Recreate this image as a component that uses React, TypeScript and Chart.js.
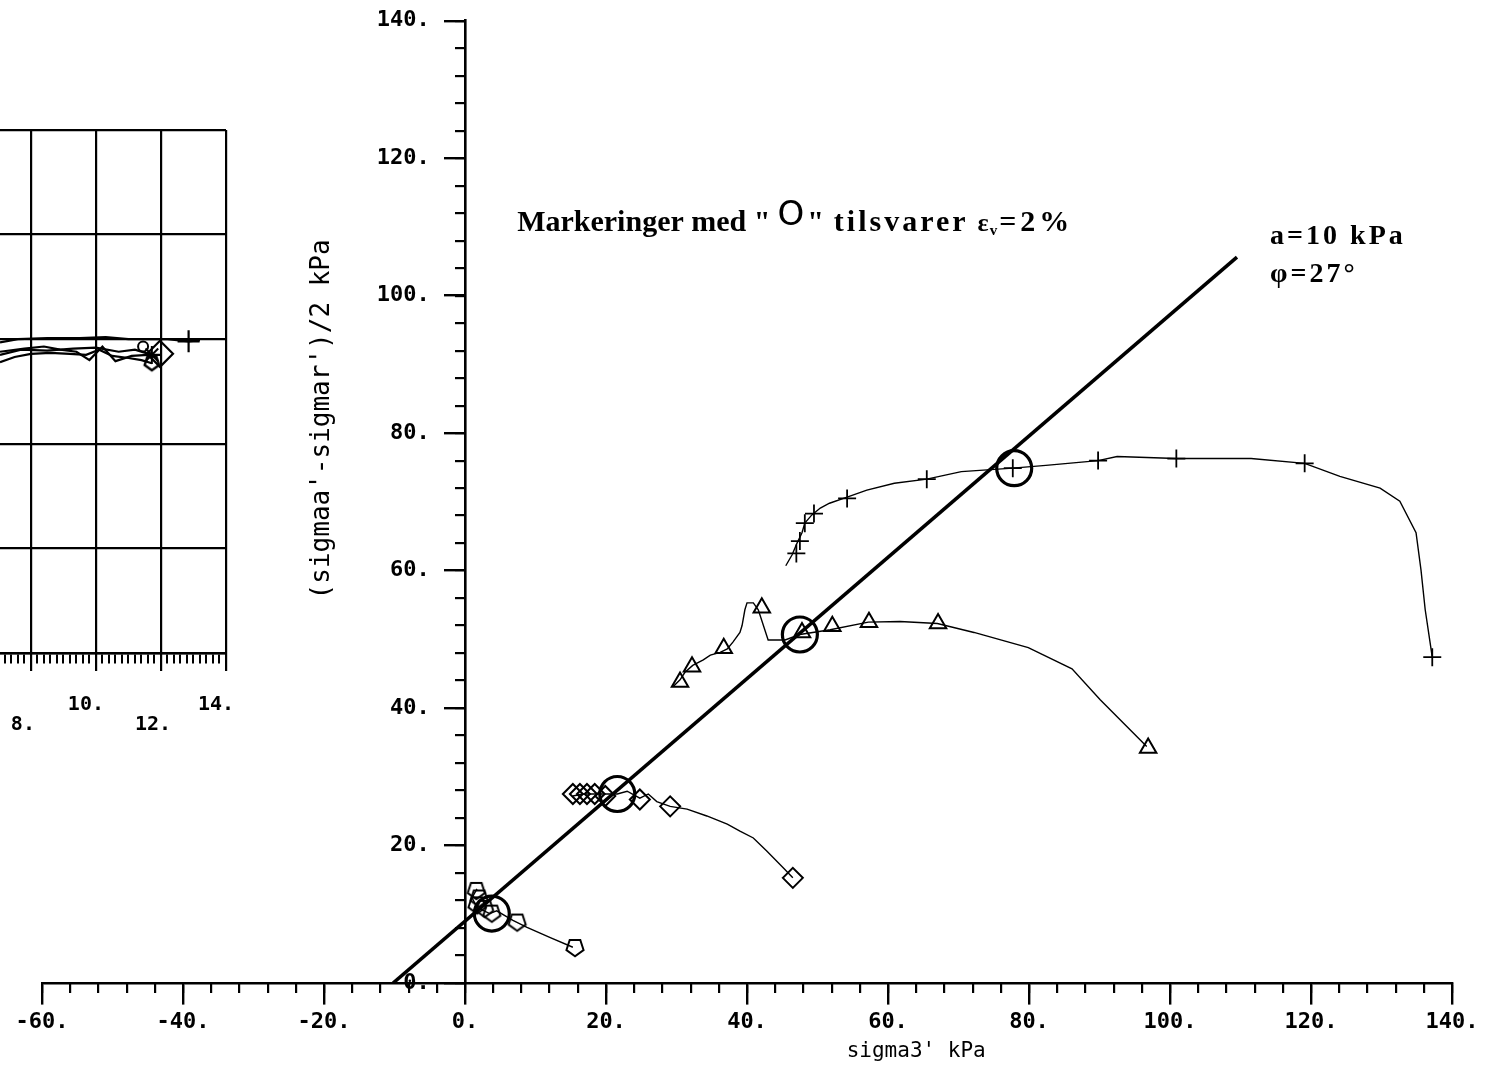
import React, { useEffect, useRef } from 'react';
import { Chart, registerables } from 'chart.js';

Chart.register(...registerables);

const FONT_MONO = '"DejaVu Sans Mono", monospace';
const FONT_SERIF = '"Liberation Serif", "Times New Roman", serif';

// ---------------- main chart: ticks & texts ----------------
const xMajorTicks = [-60, -40, -20, 0, 20, 40, 60, 80, 100, 120, 140];
const yMajorTicks = [0, 20, 40, 60, 80, 100, 120, 140];
const xTitle = "sigma3' kPa";
const yTitle = "(sigmaa'-sigmar')/2 kPa";
const noteParts = ['Markeringer med "', 'O', '"', 'tilsvarer', 'ε', 'v', '=2%'];
const paramLines = ['a=10 kPa', 'φ=27°'];

// ---------------- main chart: data ----------------
const failureLine = [[-10.2, 0], [109.5, 105.6]];

const plusCurve = [
  [45.5, 60.7], [46.4, 62.3], [47.1, 64.0], [47.8, 65.5], [48.2, 66.9], [49.2, 68.1], [50.4, 69.1],
  [51.7, 69.8], [54.2, 70.7], [57.0, 71.7], [60.9, 72.7], [65.5, 73.3], [70.4, 74.4], [77.7, 74.9],
  [82.4, 75.3], [89.8, 76.0], [92.5, 76.6], [100.9, 76.3], [111.5, 76.3], [119.1, 75.6], [124.1, 73.7],
  [129.8, 72.0], [132.6, 70.1], [134.9, 65.5], [135.6, 60.1], [136.2, 54.3], [137.2, 47.4],
];
const plusMarks = [
  [47.0, 62.5], [47.5, 64.3], [48.2, 66.9], [49.5, 68.3], [54.2, 70.5], [65.5, 73.3], [77.7, 74.9],
  [89.8, 76.0], [100.9, 76.3], [119.1, 75.6], [137.2, 47.4],
];

const triCurve = [
  [29.5, 43.1], [30.5, 44.1], [31.2, 45.2], [32.3, 46.2], [33.8, 47.0], [34.8, 47.7], [36.2, 48.1],
  [37.2, 48.6], [38.0, 49.6], [39.0, 51.0], [39.3, 52.0], [39.7, 54.3], [40.0, 55.3], [40.9, 55.3],
  [41.6, 54.3], [43.0, 49.9], [45.4, 49.9], [47.5, 50.7], [51.8, 51.4], [57.2, 52.5], [61.7, 52.6],
  [67.0, 52.3], [72.2, 51.0], [79.9, 48.8], [86.1, 45.7], [90.1, 41.2], [96.7, 34.4],
];
const triMarks = [
  [30.5, 43.8], [32.2, 46.0], [36.7, 48.7], [42.1, 54.6], [47.8, 51.0], [52.1, 51.9], [57.3, 52.5],
  [67.1, 52.3], [96.9, 34.2],
];

const diaCurve = [
  [15.3, 27.2], [16.7, 27.5], [18.2, 27.5], [20.1, 27.5], [21.6, 27.5], [23.0, 27.9], [24.8, 26.9],
  [26.0, 27.5], [27.2, 26.4], [29.1, 25.7], [31.5, 25.3], [34.3, 24.3], [37.2, 23.1], [39.0, 22.1],
  [40.9, 21.1], [42.8, 19.2], [45.1, 16.8], [46.5, 15.3],
];
const diaMarks = [
  [15.3, 27.5], [16.3, 27.5], [17.3, 27.5], [18.4, 27.5], [19.9, 27.2], [24.8, 26.7], [29.1, 25.7],
  [46.5, 15.3],
];

const pentCurve = [
  [1.7, 13.7], [1.0, 12.4], [1.7, 11.0], [3.5, 10.1], [4.5, 10.5], [6.8, 9.1], [8.8, 8.1],
  [12.1, 6.6], [15.3, 5.2],
];
const pentMarks = [[1.6, 13.4], [2.0, 12.3], [1.7, 11.3], [2.8, 10.8], [3.8, 10.1], [7.4, 8.8], [15.6, 5.1]];

const strainMarks = [[77.9, 74.9], [47.5, 50.7], [21.6, 27.5], [3.8, 10.1]];

// ---------------- left (partly visible) chart ----------------
const leftXMajorA = [10, 14];
const leftXMajorB = [8, 12];
const leftPlusLine = [[7.05, 2.97], [7.6, 3.0], [8.5, 3.01], [9.5, 3.01], [10.3, 3.02], [11.0, 3.0], [11.6, 3.0], [12.2, 3.0], [12.85, 2.98], [13.2, 2.99]];
const leftPlusMark = [[12.85, 2.98]];
const leftDiaLine = [[7.05, 2.88], [7.8, 2.91], [8.4, 2.93], [8.9, 2.9], [9.4, 2.88], [9.8, 2.8], [10.2, 2.93], [10.6, 2.79], [11.1, 2.84], [11.6, 2.85], [11.97, 2.85]];
const leftDiaMark = [[11.97, 2.86]];
const leftPentLine = [[7.05, 2.78], [7.5, 2.83], [8.0, 2.86], [8.6, 2.87], [9.2, 2.86], [9.7, 2.85], [10.1, 2.9], [10.5, 2.84], [11.0, 2.82], [11.4, 2.8], [11.72, 2.77]];
const leftPentMark = [[11.72, 2.77]];
const leftStarLine = [[7.05, 2.85], [7.7, 2.9], [8.5, 2.89], [9.3, 2.91], [10.0, 2.92], [10.7, 2.88], [11.2, 2.9], [11.72, 2.85]];
const leftStarMark = [[11.72, 2.85]];
const leftCircleMark = [[11.45, 2.93]];

const pts = (a: number[][]) => a.map(([x, y]) => ({ x, y }));

function makePentagon(size: number, lw: number) {
  const c = document.createElement('canvas');
  c.width = size;
  c.height = size;
  const g = c.getContext('2d')!;
  g.strokeStyle = '#000';
  g.lineWidth = lw;
  const r = size / 2 - lw;
  g.beginPath();
  for (let i = 0; i < 5; i++) {
    const a = Math.PI / 2 + (i * 2 * Math.PI) / 5;
    const px = size / 2 + r * Math.cos(a);
    const py = size / 2 - r * 0.08 + r * Math.sin(a);
    if (i === 0) g.moveTo(px, py);
    else g.lineTo(px, py);
  }
  g.closePath();
  g.stroke();
  return c;
}

const lineDs = (data: number[][], width = 1.4) => ({
  data: pts(data),
  showLine: true,
  borderColor: '#000',
  borderWidth: width,
  pointRadius: 0,
  xAxisID: 'x',
  yAxisID: 'y',
});
const markDs = (data: number[][], style: any, radius: number, width = 2) => ({
  data: pts(data),
  showLine: false,
  pointStyle: style,
  pointRadius: radius,
  pointBorderColor: '#000',
  pointBackgroundColor: 'rgba(0,0,0,0)',
  pointBorderWidth: width,
  xAxisID: 'x',
  yAxisID: 'y',
});

const mainTextPlugin = {
  id: 'mainTexts',
  afterDatasetsDraw(chart: any) {
    const { ctx, chartArea } = chart;
    const xs = chart.scales.x;
    const ys = chart.scales.y;
    ctx.save();
    ctx.fillStyle = '#000';
    // axis titles
    ctx.font = `21px ${FONT_MONO}`;
    ctx.textAlign = 'center';
    ctx.textBaseline = 'alphabetic';
    ctx.fillText(xTitle, xs.getPixelForValue(64), chartArea.bottom + 74);
    ctx.save();
    ctx.translate(xs.getPixelForValue(-20.2), ys.getPixelForValue(82));
    ctx.rotate(-Math.PI / 2);
    ctx.font = `26px ${FONT_MONO}`;
    ctx.textBaseline = 'middle';
    ctx.fillText(yTitle, 0, 0);
    ctx.restore();

    // note: Markeringer med "O" tilsvarer ε_v=2%
    ctx.textAlign = 'left';
    ctx.textBaseline = 'alphabetic';
    const big = `bold 30px ${FONT_SERIF}`;
    const base = ys.getPixelForValue(109.4);
    let px = xs.getPixelForValue(7.4);
    ctx.font = big;
    ctx.fillText(noteParts[0], px, base);
    px += ctx.measureText(noteParts[0]).width + 7;
    ctx.font = `34px "DejaVu Sans", sans-serif`;
    ctx.fillText(noteParts[1], px, base - 6);
    px += ctx.measureText(noteParts[1]).width + 3;
    ctx.font = big;
    ctx.fillText(noteParts[2], px, base);
    px += ctx.measureText(noteParts[2]).width + 10;
    (ctx as any).letterSpacing = '3px';
    ctx.fillText(noteParts[3], px, base);
    px += ctx.measureText(noteParts[3]).width + 9;
    (ctx as any).letterSpacing = '0px';
    ctx.font = `bold 26px ${FONT_SERIF}`;
    ctx.fillText(noteParts[4], px, base);
    px += ctx.measureText(noteParts[4]).width + 1;
    ctx.font = `bold 15px ${FONT_SERIF}`;
    ctx.fillText(noteParts[5], px, base + 4);
    px += ctx.measureText(noteParts[5]).width + 2;
    ctx.font = big;
    (ctx as any).letterSpacing = '4px';
    ctx.fillText(noteParts[6], px, base);

    // parameters
    ctx.font = `bold 28px ${FONT_SERIF}`;
    (ctx as any).letterSpacing = '3px';
    const ax = xs.getPixelForValue(114.2);
    ctx.fillText(paramLines[0], ax, ys.getPixelForValue(107.5));
    ctx.fillText(paramLines[1], ax, ys.getPixelForValue(102.0));
    ctx.restore();
  },
};

export default function App() {
  const mainRef = useRef<HTMLCanvasElement>(null);
  const leftRef = useRef<HTMLCanvasElement>(null);

  useEffect(() => {
    const pent = makePentagon(22, 2);
    const pentSmall = makePentagon(20, 2.4);
    const tickFont = { family: FONT_MONO, size: 22, weight: 'bold' as const };
    const axisColor = '#000';

    const mainChart = new Chart(mainRef.current!, {
      type: 'scatter',
      data: {
        datasets: [
          lineDs(failureLine, 3.6),
          lineDs(plusCurve),
          lineDs(triCurve),
          lineDs(diaCurve),
          lineDs(pentCurve),
          markDs(plusMarks, 'cross', 9, 1.8),
          markDs(triMarks, 'triangle', 9.5, 2),
          markDs(diaMarks, 'rectRot', 10, 2),
          markDs(pentMarks, pent, 11, 2),
          markDs(strainMarks, 'circle', 17.5, 3.2),
        ] as any,
      },
      options: {
        responsive: false,
        animation: false,
        events: [],
        layout: { padding: { left: 42, right: 42, top: 14, bottom: 91 } },
        plugins: { legend: { display: false }, tooltip: { enabled: false } },
        scales: {
          x: {
            type: 'linear',
            axis: 'x',
            min: -60,
            max: 140,
            position: { y: 0 } as any,
            afterBuildTicks: (s: any) => {
              s.ticks = xMajorTicks.map((v) => ({ value: v }));
            },
            grid: { drawOnChartArea: false, drawTicks: true, tickLength: 20, color: axisColor, lineWidth: 2.4 },
            border: { display: true, color: axisColor, width: 2.6 },
            ticks: { color: '#000', font: tickFont, padding: 6, maxRotation: 0, autoSkip: false, callback: (v: any) => `${v}.` },
          },
          xMinor: {
            type: 'linear',
            axis: 'x',
            min: -60,
            max: 140,
            position: { y: 0 } as any,
            ticks: { stepSize: 4, display: false, autoSkip: false },
            grid: { drawOnChartArea: false, drawTicks: true, tickLength: 10, color: axisColor, lineWidth: 2.2 },
            border: { display: false },
          },
          y: {
            type: 'linear',
            axis: 'y',
            min: 0,
            max: 140,
            position: { x: 0 } as any,
            afterBuildTicks: (s: any) => {
              s.ticks = yMajorTicks.map((v) => ({ value: v }));
            },
            grid: { drawOnChartArea: false, drawTicks: true, tickLength: 20, color: axisColor, lineWidth: 2.4 },
            border: { display: true, color: axisColor, width: 2.6 },
            ticks: { display: false },
          },
          yMinor: {
            type: 'linear',
            axis: 'y',
            min: 0,
            max: 140,
            position: { x: 0 } as any,
            ticks: { stepSize: 4, display: false, autoSkip: false },
            grid: { drawOnChartArea: false, drawTicks: true, tickLength: 10, color: axisColor, lineWidth: 2.2 },
            border: { display: false },
          },
          yLabels: {
            type: 'linear',
            axis: 'y',
            min: 0,
            max: 140,
            position: { x: -5.0 } as any,
            afterBuildTicks: (s: any) => {
              s.ticks = yMajorTicks.map((v) => ({ value: v }));
            },
            grid: { display: false, drawOnChartArea: false, drawTicks: false },
            border: { display: false },
            ticks: { color: '#000', font: tickFont, autoSkip: false, callback: (v: any) => `${v}.` },
          },
        },
      } as any,
      plugins: [mainTextPlugin],
    });

    const leftLine = (d: number[][]) => ({ ...lineDs(d, 2.2) });
    const leftMinorTicks: number[] = [];
    for (let i = 36; i <= 70; i++) leftMinorTicks.push(Math.round(i * 2) / 10);
    const leftFont = { family: FONT_MONO, size: 20, weight: 'bold' as const };

    const leftChart = new Chart(leftRef.current!, {
      type: 'scatter',
      data: {
        datasets: [
          leftLine(leftPlusLine),
          leftLine(leftDiaLine),
          leftLine(leftPentLine),
          leftLine(leftStarLine),
          markDs(leftPlusMark, 'cross', 11, 2.2),
          markDs(leftDiaMark, 'rectRot', 13, 2.2),
          markDs(leftStarMark, 'star', 9, 2),
          markDs(leftPentMark, pentSmall, 10, 2),
          markDs(leftCircleMark, 'circle', 5, 2),
        ] as any,
      },
      options: {
        responsive: false,
        animation: false,
        events: [],
        layout: { padding: { left: 60, right: 60, top: 130, bottom: 87 } },
        plugins: { legend: { display: false }, tooltip: { enabled: false } },
        scales: {
          x: {
            type: 'linear',
            axis: 'x',
            min: 7.05,
            max: 14,
            position: { y: 0 } as any,
            afterBuildTicks: (s: any) => {
              s.ticks = leftMinorTicks.map((v) => ({ value: v }));
            },
            ticks: { display: false, autoSkip: false },
            grid: { drawOnChartArea: false, drawTicks: true, tickLength: 9, color: '#000', lineWidth: 2 },
            border: { display: true, color: '#000', width: 2.4 },
          },
          xA: {
            type: 'linear',
            axis: 'x',
            min: 7.05,
            max: 14,
            position: { y: 0 } as any,
            afterBuildTicks: (s: any) => {
              s.ticks = leftXMajorA.map((v) => ({ value: v }));
            },
            ticks: { color: '#000', font: leftFont, padding: 22, labelOffset: -10, autoSkip: false, maxRotation: 0, callback: (v: any) => `${v}.` },
            grid: { drawOnChartArea: true, drawTicks: true, tickLength: 18, color: '#000', lineWidth: 2.2 },
            border: { display: false },
          },
          xB: {
            type: 'linear',
            axis: 'x',
            min: 7.05,
            max: 14,
            position: { y: 0 } as any,
            afterBuildTicks: (s: any) => {
              s.ticks = leftXMajorB.map((v) => ({ value: v }));
            },
            ticks: { color: '#000', font: leftFont, padding: 42, labelOffset: -8, autoSkip: false, maxRotation: 0, callback: (v: any) => `${v}.` },
            grid: { drawOnChartArea: true, drawTicks: true, tickLength: 18, color: '#000', lineWidth: 2.2 },
            border: { display: false },
          },
          y: {
            type: 'linear',
            axis: 'y',
            min: 0,
            max: 5,
            position: 'left',
            ticks: { display: false, stepSize: 1 },
            grid: { drawOnChartArea: true, drawTicks: false, color: '#000', lineWidth: 2.2 },
            border: { display: false },
          },
        },
      } as any,
    });

    return () => {
      mainChart.destroy();
      leftChart.destroy();
    };
  }, []);

  return (
    <div style={{ position: 'fixed', left: 0, top: 0, width: 1494, height: 1074, background: '#fff', overflow: 'hidden' }}>
      <canvas ref={mainRef} width={1494} height={1074} style={{ position: 'absolute', left: 0, top: 0, width: 1494, height: 1074 }} />
      <canvas ref={leftRef} width={346} height={740} style={{ position: 'absolute', left: -60, top: 0, width: 346, height: 740 }} />
    </div>
  );
}
